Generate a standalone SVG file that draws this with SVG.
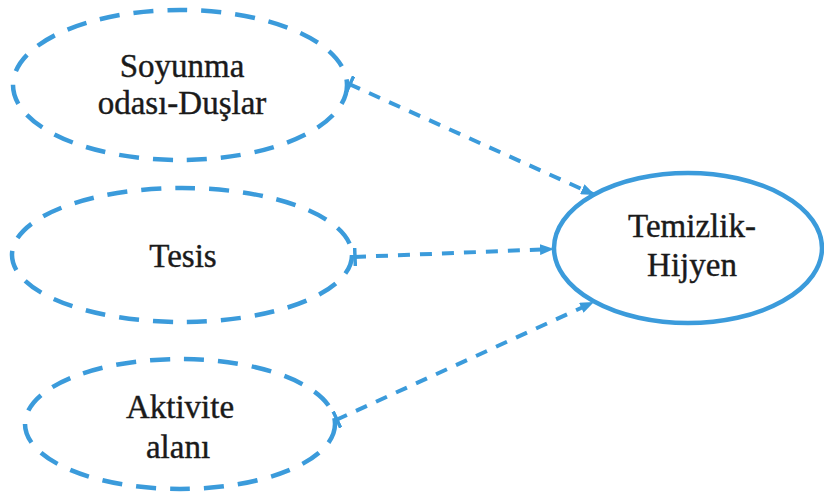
<svg xmlns="http://www.w3.org/2000/svg" width="824" height="494" viewBox="0 0 824 494">
  <style>
    .dashed { fill: none; stroke: #3b9bdb; stroke-width: 4.5; stroke-dasharray: 20 14; stroke-linecap: butt; }
    .solid { fill: none; stroke: #3b9bdb; stroke-width: 4.5; }
    .edge { fill: none; stroke: #3b9bdb; stroke-width: 4; stroke-dasharray: 12 10; }
    .label { font-family: "Liberation Serif", "Times New Roman", serif; font-size: 33px; fill: #1a1a1a; stroke: #1a1a1a; stroke-width: 0.4; text-anchor: middle; }
  </style>
  <defs>
    <marker id="arrow" viewBox="0 0 14 11" refX="14" refY="5.5" markerWidth="14" markerHeight="11" markerUnits="userSpaceOnUse" orient="auto">
      <path d="M0,0 L14,5.5 L0,11 Z" fill="#3b9bdb"/>
    </marker>
    <marker id="tee" viewBox="0 0 4 18" refX="1" refY="9" markerWidth="4" markerHeight="18" markerUnits="userSpaceOnUse" orient="auto">
      <path d="M2,0 L2,18" stroke="#3b9bdb" stroke-width="3.5"/>
    </marker>
  </defs>
  <rect width="824" height="494" fill="#ffffff"/>

  <g id="connectors">
    <path class="edge" d="M349,84 L595,195" marker-start="url(#tee)" marker-end="url(#arrow)"/>
    <path class="edge" d="M354,257 L554,249" marker-start="url(#tee)" marker-end="url(#arrow)"/>
    <path class="edge" d="M336,420 L594,302" marker-start="url(#tee)" marker-end="url(#arrow)"/>
  </g>

  <g id="soyunma">
    <ellipse class="dashed" cx="180" cy="85" rx="167" ry="75"/>
    <text class="label" x="182" y="77">Soyunma</text>
    <text class="label" x="182" y="114">odası-Duşlar</text>
  </g>

  <g id="tesis">
    <ellipse class="dashed" cx="182" cy="255" rx="170" ry="67"/>
    <text class="label" x="183" y="267">Tesis</text>
  </g>

  <g id="aktivite">
    <ellipse class="dashed" cx="180" cy="424" rx="155" ry="65"/>
    <text class="label" x="180" y="418">Aktivite</text>
    <text class="label" x="178" y="458">alanı</text>
  </g>

  <g id="temizlik">
    <ellipse class="solid" cx="688" cy="248" rx="134" ry="75"/>
    <text class="label" x="692" y="237">Temizlik-</text>
    <text class="label" x="692" y="276">Hijyen</text>
  </g>
</svg>
